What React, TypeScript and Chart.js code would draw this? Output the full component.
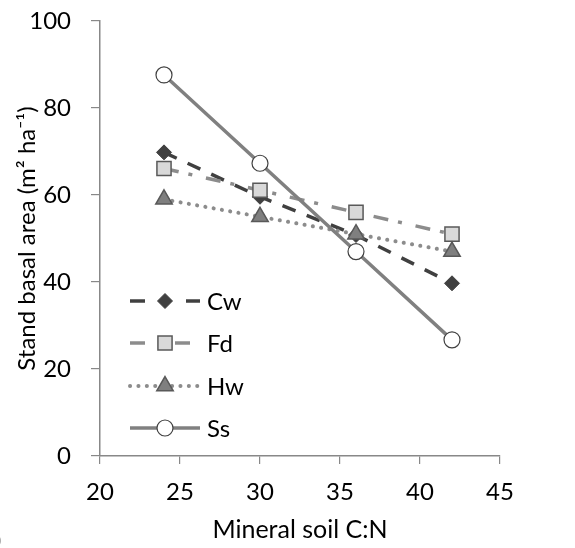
import React, { useEffect, useRef } from "react";
import { Chart, registerables } from "chart.js";
import { drawPoint } from "chart.js/helpers";

Chart.register(...registerables);

const xValues = [24, 30, 36, 42];
const seriesNames = ["Cw", "Fd", "Hw", "Ss"];
const cw = [69.8, 59.6, 50.8, 39.7];
const fd = [66.1, 61.1, 56.0, 51.0];
const hw = [59.0, 55.0, 51.0, 47.0];
const ss = [87.6, 67.3, 47.0, 26.7];
const xTicks = [20, 25, 30, 35, 40, 45];
const yTicks = [0, 20, 40, 60, 80, 100];

const FONT = "Lato, 'Open Sans', sans-serif";

const toPts = (arr: number[]) => arr.map((y, i) => ({ x: xValues[i], y }));

const legendPlugin = {
  id: "customLegend",
  afterDatasetsDraw(chart: any) {
    const ctx = chart.ctx;
    const ca = chart.chartArea;
    const rows = [ca.top + 280, ca.top + 322, ca.top + 365, ca.top + 407];
    const x0 = ca.left + 30;
    const x1 = ca.left + 100;
    const mx = ca.left + 65;
    const segs: number[][][] = [
      [[0, 15], [56, 70]],
      [[0, 15], [45, 60]],
      [],
      [[0, 70]],
    ];
    chart.data.datasets.forEach((ds: any, i: number) => {
      const y = rows[i];
      ctx.save();
      ctx.strokeStyle = ds.borderColor;
      ctx.lineWidth = ds.borderWidth;
      if (i === 2) {
        ctx.lineCap = "round";
        ctx.setLineDash(ds.borderDash);
        ctx.beginPath();
        ctx.moveTo(x0, y);
        ctx.lineTo(x1, y);
        ctx.stroke();
      } else {
        ctx.lineCap = "butt";
        ctx.setLineDash([]);
        segs[i].forEach((s) => {
          ctx.beginPath();
          ctx.moveTo(x0 + s[0], y);
          ctx.lineTo(x0 + s[1], y);
          ctx.stroke();
        });
      }
      ctx.setLineDash([]);
      ctx.fillStyle = ds.pointBackgroundColor;
      ctx.strokeStyle = ds.pointBorderColor;
      ctx.lineWidth = ds.pointBorderWidth;
      drawPoint(ctx, { pointStyle: ds.pointStyle, radius: ds.pointRadius, rotation: 0, borderWidth: ds.pointBorderWidth }, mx, y);
      ctx.fillStyle = "#000";
      ctx.font = `24px ${FONT}`;
      ctx.textBaseline = "middle";
      ctx.textAlign = "left";
      ctx.fillText(seriesNames[i], x1 + 7, y + 1);
      ctx.restore();
    });
  },
};

export default function App() {
  const ref = useRef<HTMLCanvasElement | null>(null);
  useEffect(() => {
    if (!ref.current) return;
    const tickFont = { family: FONT, size: 24 };
    const chart = new Chart(ref.current, {
      type: "line",
      data: {
        datasets: [
          {
            label: seriesNames[0],
            data: toPts(cw),
            borderColor: "#404040",
            borderWidth: 3.5,
            borderDash: [14, 12],
            pointStyle: "rectRot",
            pointRadius: 7.5,
            pointBackgroundColor: "#404040",
            pointBorderColor: "#404040",
            pointBorderWidth: 1,
            order: 3,
          },
          {
            label: seriesNames[1],
            data: toPts(fd),
            borderColor: "#8c8c8c",
            borderWidth: 3.5,
            borderDash: [15, 10, 4, 14],
            pointStyle: "rect",
            pointRadius: 10,
            pointBackgroundColor: "#d9d9d9",
            pointBorderColor: "#595959",
            pointBorderWidth: 1.5,
            order: 2,
          },
          {
            label: seriesNames[2],
            data: toPts(hw),
            borderColor: "#8c8c8c",
            borderWidth: 4,
            borderDash: [0.1, 8.3],
            borderCapStyle: "round",
            pointStyle: "triangle",
            pointRadius: 9.5,
            pointBackgroundColor: "#7f7f7f",
            pointBorderColor: "#595959",
            pointBorderWidth: 1.5,
            order: 1,
          },
          {
            label: seriesNames[3],
            data: toPts(ss),
            borderColor: "#808080",
            borderWidth: 3.5,
            pointStyle: "circle",
            pointRadius: 8,
            pointBackgroundColor: "#ffffff",
            pointBorderColor: "#404040",
            pointBorderWidth: 1.2,
            order: 0,
          },
        ] as any,
      },
      options: {
        animation: false,
        responsive: false,
        maintainAspectRatio: false,
        layout: { padding: { left: 0, right: 75, top: 21, bottom: 0 } },
        plugins: { legend: { display: false }, tooltip: { enabled: false } },
        scales: {
          x: {
            type: "linear",
            min: 20,
            max: 45,
            afterBuildTicks: (s: any) => {
              s.ticks = xTicks.map((v) => ({ value: v }));
            },
            afterFit: (s: any) => {
              s.height = 92;
              s.paddingLeft = 0;
              s.paddingRight = 0;
            },
            ticks: { font: tickFont, color: "#000", padding: 14 },
            grid: { drawOnChartArea: false, drawTicks: true, tickLength: 8, color: "#888", lineWidth: 1.2 },
            border: { color: "#888", width: 1.5 },
            title: {
              display: true,
              text: "Mineral soil C:N",
              font: { family: FONT, size: 25 },
              color: "#000",
              padding: { top: 0, bottom: 3 },
            },
          },
          y: {
            min: 0,
            max: 100,
            afterBuildTicks: (s: any) => {
              s.ticks = yTicks.map((v) => ({ value: v }));
            },
            afterFit: (s: any) => {
              s.width = 100;
              s.paddingTop = 0;
              s.paddingBottom = 0;
            },
            ticks: { font: tickFont, color: "#000", padding: 20 },
            grid: { drawOnChartArea: false, drawTicks: true, tickLength: 9, color: "#888", lineWidth: 1.2 },
            border: { color: "#888", width: 1.5 },
            title: {
              display: true,
              text: "Stand basal area (m² ha⁻¹)",
              font: { family: FONT, size: 24 },
              color: "#000",
              padding: { top: 13, bottom: 0 },
            },
          },
        },
      } as any,
      plugins: [legendPlugin],
    });
    return () => chart.destroy();
  }, []);
  return (
    <div style={{ position: "fixed", left: 0, top: 0, width: 575, height: 548, background: "#fff", overflow: "hidden" }}>
      <canvas ref={ref} width={575} height={548} style={{ display: "block" }} />
      <span style={{ position: "absolute", left: -5, top: 524, fontFamily: FONT, fontSize: 24, lineHeight: "30px", color: "#000" }}>)</span>
    </div>
  );
}
